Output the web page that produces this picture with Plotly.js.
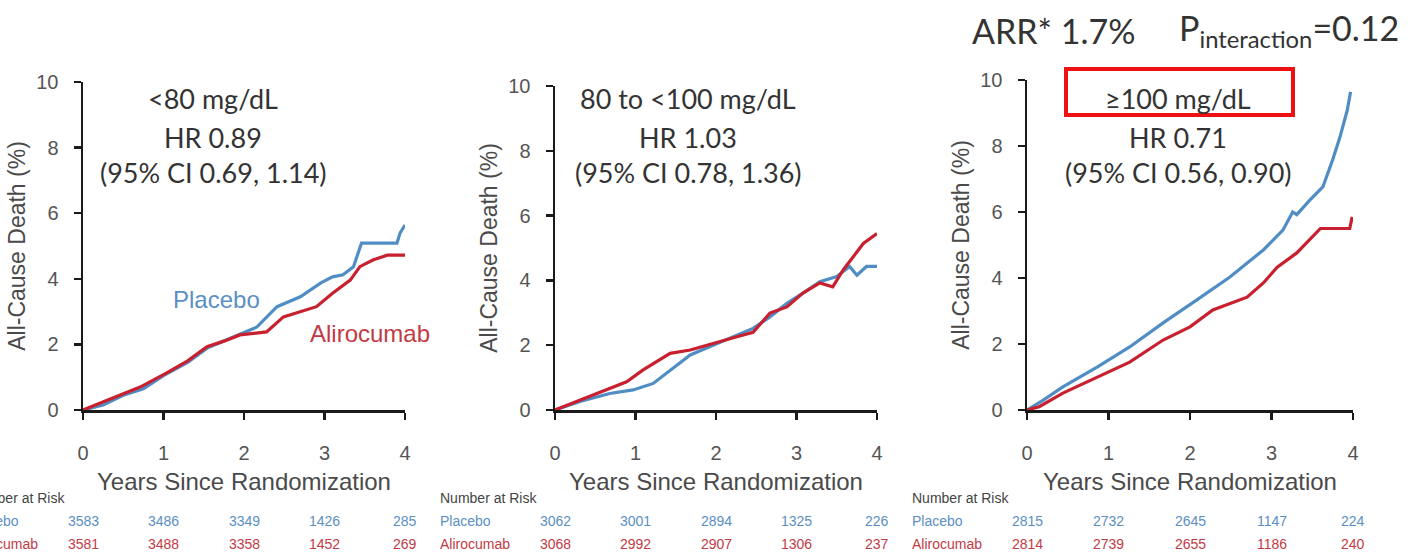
<!DOCTYPE html>
<html>
<head>
<meta charset="utf-8">
<script src="https://cdn.plot.ly/plotly-3.0.1.min.js"></script>
<style>html,body{margin:0;padding:0;background:#fff;}#chart{width:1408px;height:555px;}</style>
</head>
<body>
<div id="chart"></div>
<script>
// ---------- data ----------
const years = [0, 1, 2, 3, 4];
const tickVals = [0, 2, 4, 6, 8, 10];

const panelTitles = ["<80 mg/dL", "80 to <100 mg/dL", "≥100 mg/dL"];
const panelHR = ["HR 0.89", "HR 1.03", "HR 0.71"];
const panelCI = ["(95% CI 0.69, 1.14)", "(95% CI 0.78, 1.36)", "(95% CI 0.56, 0.90)"];
const headerARR = "ARR* 1.7%";
const headerP = "P<sub>interaction</sub>=0.12";

// Panel 1 (<80 mg/dL)
const p1PlaceboX = [0, 0.25, 0.5, 0.75, 1.0, 1.3, 1.55, 1.8, 2.0, 2.16, 2.41, 2.7, 2.95, 3.1, 3.23, 3.36, 3.46, 3.9, 3.94, 4.0];
const p1PlaceboY = [0, 0.15, 0.45, 0.65, 1.05, 1.45, 1.9, 2.15, 2.35, 2.53, 3.15, 3.45, 3.87, 4.06, 4.12, 4.37, 5.09, 5.09, 5.4, 5.64];
const p1AliroX = [0, 0.21, 0.45, 0.71, 1.04, 1.3, 1.54, 1.75, 1.95, 2.28, 2.49, 2.7, 2.9, 3.1, 3.32, 3.44, 3.6, 3.78, 4.0];
const p1AliroY = [0, 0.2, 0.45, 0.7, 1.13, 1.5, 1.93, 2.1, 2.29, 2.38, 2.84, 3.0, 3.15, 3.56, 3.96, 4.37, 4.57, 4.72, 4.72];

// Panel 2 (80 to <100 mg/dL)
const p2PlaceboX = [0, 0.31, 0.68, 0.97, 1.22, 1.43, 1.68, 1.92, 2.26, 2.46, 2.67, 2.88, 3.08, 3.29, 3.5, 3.66, 3.75, 3.87, 4.0];
const p2PlaceboY = [0, 0.26, 0.51, 0.62, 0.82, 1.23, 1.7, 1.95, 2.31, 2.52, 2.87, 3.29, 3.61, 3.96, 4.12, 4.43, 4.16, 4.43, 4.43];
const p2AliroX = [0, 0.31, 0.68, 0.89, 1.09, 1.43, 1.68, 2.01, 2.26, 2.46, 2.67, 2.88, 3.08, 3.29, 3.45, 3.58, 3.7, 3.83, 4.0];
const p2AliroY = [0, 0.31, 0.68, 0.87, 1.23, 1.75, 1.85, 2.07, 2.26, 2.4, 2.99, 3.18, 3.61, 3.92, 3.8, 4.32, 4.73, 5.14, 5.45];

// Panel 3 (>=100 mg/dL)
const p3PlaceboX = [0, 0.2, 0.44, 0.86, 1.26, 1.67, 2.08, 2.49, 2.9, 3.14, 3.26, 3.31, 3.47, 3.63, 3.75, 3.84, 3.93, 3.97];
const p3PlaceboY = [0, 0.3, 0.7, 1.3, 1.91, 2.64, 3.33, 4.03, 4.85, 5.45, 6.0, 5.92, 6.36, 6.76, 7.58, 8.27, 9.09, 9.64];
const p3AliroX = [0, 0.15, 0.44, 0.86, 1.26, 1.67, 2.0, 2.28, 2.7, 2.9, 3.07, 3.31, 3.47, 3.6, 3.96, 3.99];
const p3AliroY = [0, 0.1, 0.51, 1.0, 1.45, 2.12, 2.52, 3.03, 3.42, 3.85, 4.33, 4.76, 5.15, 5.5, 5.5, 5.85];

// Number at risk
const riskPlacebo = [[3583, 3486, 3349, 1426, 285], [3062, 3001, 2894, 1325, 226], [2815, 2732, 2645, 1147, 224]];
const riskAliro = [[3581, 3488, 3358, 1452, 269], [3068, 2992, 2907, 1306, 237], [2814, 2739, 2655, 1186, 240]];

// ---------- styling ----------
const W = 1408, H = 555;
const px = v => v / W;
const py = v => (H - v) / H;
const blue = "#4f8dc4", red = "#c8202f";
const blueText = "#5b8fc4", redText = "#c23a45";
const sans = "Liberation Sans, Arial, sans-serif";
const cal = "Lato, Open Sans, sans-serif";

const placeboX = [p1PlaceboX, p2PlaceboX, p3PlaceboX];
const placeboY = [p1PlaceboY, p2PlaceboY, p3PlaceboY];
const aliroX = [p1AliroX, p2AliroX, p3AliroX];
const aliroY = [p1AliroY, p2AliroY, p3AliroY];

// axis geometry (pixels)
const axLeft = [83, 555, 1027], axRight = [405, 877, 1353], axTop = [82, 86, 80], axBottom = 410;
const textCenter = [213, 688, 1178];
const tableLabelX = [-34, 438, 910];

const traces = [];
const layout = {
  width: W, height: H,
  margin: {l: 0, r: 0, t: 0, b: 0},
  paper_bgcolor: "#fff", plot_bgcolor: "rgba(0,0,0,0)",
  showlegend: false,
  annotations: [], shapes: []
};

function ann(x, y, text, font, xanchor) {
  layout.annotations.push({xref: "paper", yref: "paper", x: px(x), y: py(y), text: text, showarrow: false,
    xanchor: xanchor || "center", yanchor: "middle", font: font});
}

for (let i = 0; i < 3; i++) {
  const sx = i === 0 ? "" : String(i + 1);
  traces.push({x: placeboX[i], y: placeboY[i], xaxis: "x" + sx, yaxis: "y" + sx, type: "scatter", mode: "lines",
    line: {color: blue, width: 3.2}, name: "Placebo", cliponaxis: false});
  traces.push({x: aliroX[i], y: aliroY[i], xaxis: "x" + sx, yaxis: "y" + sx, type: "scatter", mode: "lines",
    line: {color: red, width: 3.2}, name: "Alirocumab", cliponaxis: false});

  layout["xaxis" + sx] = {
    domain: [px(axLeft[i]), px(axRight[i])], anchor: "y" + sx, range: [0, 4],
    tickvals: years, ticks: "outside", ticklen: 7, tickwidth: 2.5, tickcolor: "#1a1a1a",
    showline: true, linewidth: 2.5, linecolor: "#1a1a1a", showgrid: false, zeroline: false,
    tickfont: {family: sans, size: 20, color: "#555"},
    ticklabelstandoff: 16, automargin: false, fixedrange: true,
    title: {text: "Years Since Randomization", standoff: 11, font: {family: sans, size: 24, color: "#4a4a4a"}}
  };
  layout["yaxis" + sx] = {
    domain: [py(axBottom), py(axTop[i])], anchor: "x" + sx, range: [0, 10],
    tickvals: tickVals, ticks: "outside", ticklen: 7, tickwidth: 2.5, tickcolor: "#1a1a1a",
    showline: true, linewidth: 2.5, linecolor: "#1a1a1a", showgrid: false, zeroline: false,
    tickfont: {family: sans, size: 20, color: "#555"},
    ticklabelstandoff: 11, automargin: false, fixedrange: true,
    title: {text: "All-Cause Death (%)", standoff: 4, font: {family: sans, size: 23, color: "#4a4a4a"}}
  };

  // panel text
  const cf = {family: cal, size: 27, color: "#333"};
  ann(textCenter[i], 99, panelTitles[i], cf);
  ann(textCenter[i], 137, panelHR[i], cf);
  ann(textCenter[i], 172, panelCI[i], cf);

  // number at risk table
  const tf = {family: sans, size: 14};
  ann(tableLabelX[i], 498, "Number at Risk", Object.assign({}, tf, {color: "#444"}), "left");
  ann(tableLabelX[i], 521, "Placebo", Object.assign({}, tf, {color: blueText}), "left");
  ann(tableLabelX[i], 544, "Alirocumab", Object.assign({}, tf, {color: redText}), "left");
  for (let k = 0; k < years.length; k++) {
    layout.annotations.push({xref: "x" + sx, yref: "paper", x: years[k], y: py(521), text: String(riskPlacebo[i][k]), showarrow: false, xanchor: "center", yanchor: "middle", font: Object.assign({}, tf, {color: blueText})});
    layout.annotations.push({xref: "x" + sx, yref: "paper", x: years[k], y: py(544), text: String(riskAliro[i][k]), showarrow: false, xanchor: "center", yanchor: "middle", font: Object.assign({}, tf, {color: redText})});
  }
}

// legend-like labels in panel 1
ann(216, 299, "Placebo", {family: sans, size: 24, color: blueText});
ann(370, 333, "Alirocumab", {family: sans, size: 24, color: redText});

// header
ann(970, 30, headerARR, {family: cal, size: 34, color: "#333"}, "left");
ann(1401, 30, headerP, {family: cal, size: 34, color: "#333"}, "right");

// red highlight box
layout.shapes.push({type: "rect", xref: "paper", yref: "paper", x0: px(1066), x1: px(1293), y0: py(115), y1: py(69),
  line: {color: "#ee1111", width: 4}, fillcolor: "rgba(0,0,0,0)"});

Plotly.newPlot("chart", traces, layout, {staticPlot: true, displayModeBar: false});
</script>
</body>
</html>
